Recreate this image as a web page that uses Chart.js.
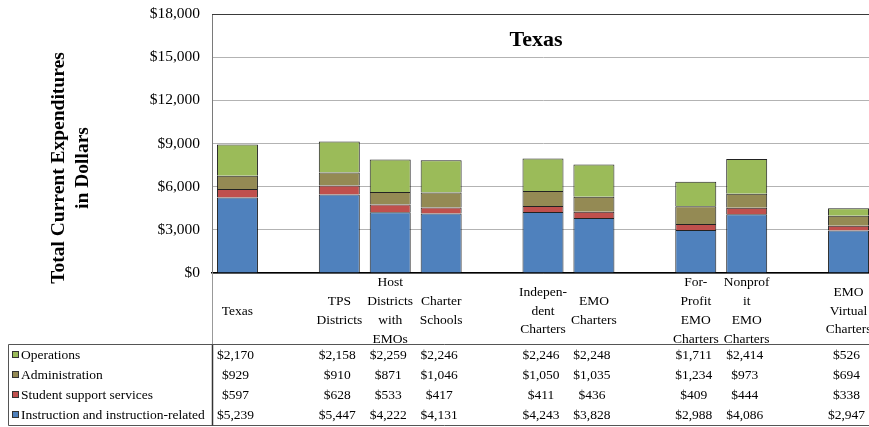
<!DOCTYPE html>
<html>
<head>
<meta charset="utf-8">
<script src="https://cdn.jsdelivr.net/npm/chart.js@4/dist/chart.umd.min.js"></script>
<style>
    html, body { margin: 0; padding: 0; background: #fff; overflow: hidden; }
    #wrap { width: 880px; height: 427px; }
</style>
</head>
<body>
<div id="wrap"><canvas id="chart" width="880" height="427"></canvas></div>
<script>
//category columns, empty entries are the spacer columns between groups
const categories = ["Texas", "", "TPS Districts", "Host Districts with EMOs", "Charter Schools", "",
    "Independent Charters", "EMO Charters", "", "For-Profit EMO Charters", "Nonprofit EMO Charters", "",
    "EMO Virtual Charters"];
//wrapped label text as it sits under each column
const categoryLines = [
    ["Texas"], [], ["TPS", "Districts"], ["Host", "Districts", "with", "EMOs"], ["Charter", "Schools"], [],
    ["Indepen-", "dent", "Charters"], ["EMO", "Charters"], [],
    ["For-", "Profit", "EMO", "Charters"], ["Nonprof", "it", "EMO", "Charters"], [],
    ["EMO", "Virtual", "Charters"]
];

const instruction = [5239, null, 5447, 4222, 4131, null, 4243, 3828, null, 2988, 4086, null, 2947];
const studentSupport = [597, null, 628, 533, 417, null, 411, 436, null, 409, 444, null, 338];
const administration = [929, null, 910, 871, 1046, null, 1050, 1035, null, 1234, 973, null, 694];
const operations = [2170, null, 2158, 2259, 2246, null, 2246, 2248, null, 1711, 2414, null, 526];

const yTicks = [0, 3000, 6000, 9000, 12000, 15000, 18000];

const SERIF = '"Liberation Serif", "Times New Roman", serif';
const money = v => "$" + v.toLocaleString("en-US");

const series = [
    { label: "Instruction and instruction-related", data: instruction, color: "#4F81BD" },
    { label: "Student support services", data: studentSupport, color: "#C0504D" },
    { label: "Administration", data: administration, color: "#948A54" },
    { label: "Operations", data: operations, color: "#9BBB59" }
];

//title, axis title, column labels and the data table underneath
const tablePlugin = {
    id: "dataTable",
    afterDraw(chart) {
        const ctx = chart.ctx;
        const area = chart.chartArea;
        const xs = chart.scales.x;
        const W = chart.width;
        ctx.save();

        //dark line along the top of the plot
        ctx.strokeStyle = "#3a3a3a";
        ctx.lineWidth = 1;
        ctx.beginPath();
        ctx.moveTo(area.left, area.top + 0.5);
        ctx.lineTo(W, area.top + 0.5);
        ctx.stroke();

        ctx.fillStyle = "#000";
        ctx.font = "bold 22px " + SERIF;
        ctx.textAlign = "center";
        ctx.textBaseline = "middle";
        ctx.fillText("Texas", 536, 40);

        //rotated y axis title
        ctx.font = "bold 19.5px " + SERIF;
        ctx.save();
        ctx.translate(59, 168);
        ctx.rotate(-Math.PI / 2);
        ctx.fillText("Total Current Expenditures", 0, 0);
        ctx.restore();
        ctx.save();
        ctx.translate(83, 168);
        ctx.rotate(-Math.PI / 2);
        ctx.fillText("in Dollars", 0, 0);
        ctx.restore();

        //column labels, centred in the band under the axis
        ctx.font = "13.5px " + SERIF;
        const lineH = 18.7;
        categoryLines.forEach((lines, i) => {
            const x = xs.getPixelForValue(i);
            const y0 = 311 - (lines.length - 1) * lineH / 2;
            lines.forEach((t, k) => ctx.fillText(t, x, y0 + k * lineH));
        });

        //table frame
        const tTop = 344.5, tBot = 425.5, tLeft = 8.5;
        ctx.strokeStyle = "#555";
        ctx.beginPath();
        ctx.moveTo(tLeft, tTop); ctx.lineTo(W, tTop);
        ctx.moveTo(tLeft, tBot); ctx.lineTo(W, tBot);
        ctx.moveTo(tLeft, tTop); ctx.lineTo(tLeft, tBot);
        ctx.stroke();
        ctx.strokeStyle = "#999";
        ctx.beginPath();
        ctx.moveTo(area.left + 0.5, area.bottom); ctx.lineTo(area.left + 0.5, tTop);
        ctx.stroke();
        ctx.strokeStyle = "#333";
        ctx.lineWidth = 1.5;
        ctx.beginPath();
        ctx.moveTo(area.left + 0.5, tTop); ctx.lineTo(area.left + 0.5, tBot);
        ctx.stroke();
        ctx.lineWidth = 1;

        //rows run top to bottom in reverse stack order
        const rows = series.slice().reverse();
        const rowY = [355, 375, 395, 415];
        rows.forEach((s, r) => {
            const y = rowY[r];
            ctx.fillStyle = s.color;
            ctx.fillRect(12, y - 4, 7, 7);
            ctx.strokeStyle = "#333";
            ctx.strokeRect(12.5, y - 3.5, 6, 6);

            ctx.fillStyle = "#000";
            ctx.textAlign = "left";
            ctx.fillText(s.label, 21, y);

            ctx.textAlign = "center";
            s.data.forEach((v, i) => {
                if (v == null) return;
                ctx.fillText(money(v), xs.getPixelForValue(i) - 2, y);
            });
        });

        ctx.restore();
    }
};

new Chart(document.getElementById("chart"), {
    type: "bar",
    data: {
        labels: categories,
        datasets: series.map(s => ({
            label: s.label,
            data: s.data,
            backgroundColor: s.color,
            borderColor: "rgba(10,10,10,0.9)",
            borderWidth: 1,
            barPercentage: 0.805,
            categoryPercentage: 1
        }))
    },
    options: {
        responsive: false,
        animation: false,
        layout: { padding: { top: 14, bottom: 154, left: 0, right: 6 } },
        plugins: {
            legend: { display: false },
            tooltip: { enabled: false }
        },
        scales: {
            x: {
                stacked: true,
                ticks: { display: false },
                grid: { display: false },
                border: { display: true, color: "#000", width: 1.5 },
                afterFit(scale) { scale.height = 0; }
            },
            y: {
                stacked: true,
                min: 0,
                max: 18000,
                afterBuildTicks(scale) { scale.ticks = yTicks.map(v => ({ value: v })); },
                afterFit(scale) {
                    scale.width = 212;
                    scale.paddingTop = 0;
                    scale.paddingBottom = 0;
                },
                ticks: {
                    padding: 12,
                    color: "#000",
                    font: { family: SERIF, size: 15.5 },
                    callback: v => money(v)
                },
                grid: { color: "#b3b3b3", drawTicks: false },
                border: { color: "#7a7a7a" }
            }
        }
    },
    plugins: [tablePlugin]
});
</script>
</body>
</html>
